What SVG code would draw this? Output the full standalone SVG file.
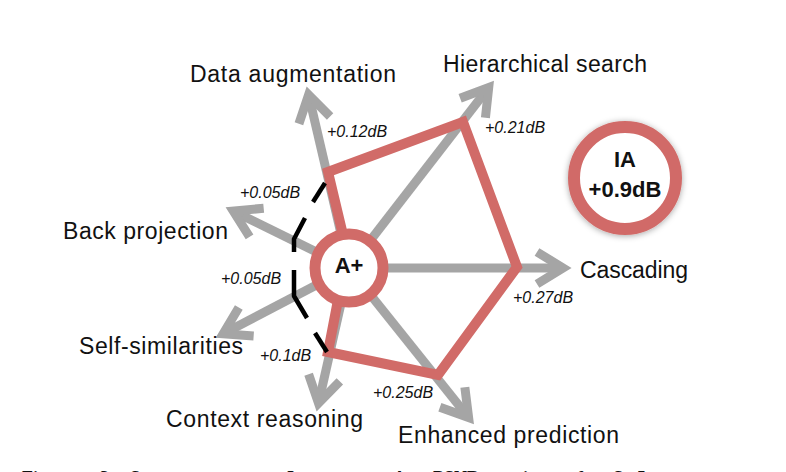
<svg xmlns="http://www.w3.org/2000/svg" width="786" height="472" viewBox="0 0 786 472">
<defs>
<style>
.ax{stroke:#a5a5a5;stroke-width:9;fill:none;marker-end:url(#ah)}
.red{stroke:#d16b68;stroke-width:10;fill:none;stroke-linejoin:miter}
.dash{stroke:#000;stroke-width:4.5;fill:none;stroke-linejoin:round}
.lab{font-family:"Liberation Sans",Arial,sans-serif;font-size:23px;fill:#111}
.val{font-family:"Liberation Sans",Arial,sans-serif;font-style:italic;font-size:16px;fill:#111}
.bold{font-family:"Liberation Sans",Arial,sans-serif;font-weight:bold;font-size:22px;fill:#111;text-anchor:middle}
.cap{font-family:"Liberation Serif","Times New Roman",serif;font-weight:bold;font-size:18px;fill:#111}
</style>
<marker id="ah" markerUnits="userSpaceOnUse" viewBox="-40 -25 50 50" markerWidth="50" markerHeight="50" refX="0" refY="0" orient="auto" overflow="visible">
<path d="M-26,-16 L0,0 L-26,16" fill="none" stroke="#a5a5a5" stroke-width="9" stroke-linejoin="miter"/>
</marker>
<filter id="sh" x="-30%" y="-30%" width="160%" height="160%">
<feDropShadow dx="0" dy="1" stdDeviation="3" flood-color="#000" flood-opacity="0.35"/>
</filter>
</defs>
<rect width="786" height="472" fill="#fff"/>
<g id="connectors">
<line class="ax" x1="349" y1="268" x2="308.6" y2="94.8"/>
<line class="ax" x1="349" y1="268" x2="488.7" y2="87.5"/>
<line class="ax" x1="349" y1="268" x2="563" y2="268"/>
<line class="ax" x1="349" y1="268" x2="468.6" y2="417.5"/>
<line class="ax" x1="349" y1="268" x2="318.5" y2="403.2"/>
<line class="ax" x1="349" y1="268" x2="223.2" y2="333.8"/>
<line class="ax" x1="349" y1="268" x2="233.3" y2="211.1"/>
<polyline class="red" points="343,235 328,172 463,122 517,267 438,375 328,352 338,300"/>
<polyline class="dash" points="325,183 313,202"/>
<polyline class="dash" points="305,218 294,239 294,252"/>
<polyline class="dash" points="294,270 294,296 307,318"/>
<polyline class="dash" points="315,333 327,352"/>
<text class="val" x="327" y="137">+0.12dB</text>
<text class="val" x="485" y="133">+0.21dB</text>
<text class="val" x="513" y="303">+0.27dB</text>
<text class="val" x="373" y="398">+0.25dB</text>
<text class="val" x="260" y="361">+0.1dB</text>
<text class="val" x="221" y="284">+0.05dB</text>
<text class="val" x="240" y="198">+0.05dB</text>
</g>
<g id="node-aplus">
<circle cx="349" cy="268" r="34" fill="#fff" stroke="#d16b68" stroke-width="11"/>
<text class="bold" x="349" y="273" font-size="21">A+</text>
</g>
<g id="node-ia">
<circle cx="625" cy="178" r="51" fill="#fff" stroke="#d16b68" stroke-width="12" filter="url(#sh)"/>
<text class="bold" x="625" y="167">IA</text>
<text class="bold" x="625" y="197">+0.9dB</text>
</g>
<g id="node-data-augmentation"><text class="lab" x="190" y="82" textLength="206">Data augmentation</text></g>
<g id="node-hierarchical-search"><text class="lab" x="443" y="72" textLength="204">Hierarchical search</text></g>
<g id="node-cascading"><text class="lab" x="580" y="278" textLength="108">Cascading</text></g>
<g id="node-back-projection"><text class="lab" x="63" y="239" textLength="165">Back projection</text></g>
<g id="node-self-similarities"><text class="lab" x="79" y="354" textLength="164">Self-similarities</text></g>
<g id="node-context-reasoning"><text class="lab" x="166" y="427" textLength="197">Context reasoning</text></g>
<g id="node-enhanced-prediction"><text class="lab" x="398" y="443" textLength="221">Enhanced prediction</text></g>
<text class="cap" y="484"><tspan x="22">Figure</tspan><tspan x="100">3:</tspan><tspan x="130">Seven</tspan><tspan x="190">ways</tspan><tspan x="247">to</tspan><tspan x="287">Improve</tspan><tspan x="393">A+:</tspan><tspan x="433">PSNR</tspan><tspan x="505">gains</tspan><tspan x="577">for</tspan><tspan x="613">Set5</tspan></text>
</svg>
